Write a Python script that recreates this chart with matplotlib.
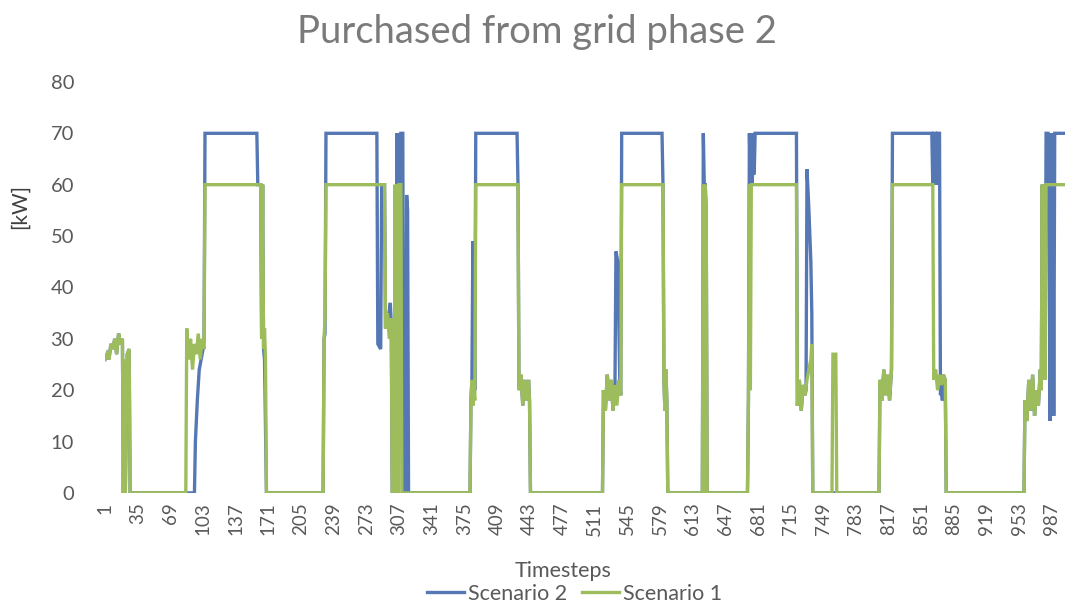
import numpy as np
import matplotlib
matplotlib.use("Agg")
import matplotlib.pyplot as plt

plt.rcParams['font.family'] = ['Lato', 'DejaVu Sans']

# Scenario 1 (green) - breakpoints: timestep, kW
s1_t = [1, 3, 5, 7, 9, 11, 13, 15, 17, 19, 20, 21, 22, 24, 26, 27,
        85, 86, 88, 90, 92, 94, 96, 98, 100, 102, 104, 105,
        163, 164, 165, 166, 167, 168, 169,
        228, 229, 230, 231,
        292, 293, 295, 297, 299, 300, 302, 303, 304, 305, 306, 307, 309, 310,
        381, 382, 383, 384, 385, 386, 387,
        431, 432, 434, 436, 438, 440, 442, 443, 444,
        519, 520, 522, 524, 526, 528, 530, 532, 534, 536, 538, 539,
        582, 583, 584, 585, 586, 587,
        623, 624, 625, 626, 627, 628,
        670, 671, 672, 673, 674,
        721, 722, 724, 726, 728, 730, 732, 734, 736, 737, 738,
        758, 759, 762, 763,
        807, 808, 810, 812, 814, 816, 818, 820, 821,
        863, 864, 866, 868, 870, 872, 874, 876, 877,
        958, 959, 961, 963, 965, 967, 969, 971, 973, 975, 976, 977, 978, 979, 980, 981, 1000]
s1_kw = [26, 27, 26, 29, 28, 30, 27, 31, 29, 30, 0, 26, 0, 27, 28, 0,
         0, 32, 26, 30, 24, 29, 27, 31, 26, 30, 28, 60,
         60, 30, 60, 28, 32, 26, 0,
         0, 30, 34, 60,
         60, 32, 35, 30, 34, 0, 0, 60, 0, 60, 0, 60, 60, 0,
         0, 18, 22, 17, 20, 18, 60,
         60, 20, 23, 17, 22, 18, 22, 18, 0,
         0, 20, 16, 23, 18, 22, 16, 21, 17, 22, 19, 60,
         60, 22, 16, 24, 18, 0,
         0, 60, 0, 60, 55, 0,
         0, 18, 60, 20, 60,
         60, 17, 22, 16, 21, 19, 22, 24, 26, 29, 0,
         0, 27, 27, 0,
         0, 22, 18, 24, 19, 23, 18, 24, 60,
         60, 22, 24, 20, 23, 21, 23, 22, 0,
         0, 18, 14, 22, 16, 23, 15, 20, 17, 24, 20, 60, 25, 60, 22, 60, 60]

# Scenario 2 (blue)
s2_t = [1, 3, 5, 7, 9, 11, 13, 15, 17, 19, 20, 21, 22, 24, 26, 27,
        94, 95, 97, 99, 101, 103, 104, 105,
        159, 160, 163, 164, 165, 166, 167, 169,
        228, 229, 230, 231,
        284, 285, 288, 289, 292, 293, 296, 298, 299, 300, 304, 305, 306, 307, 308, 309, 311, 312,
        314, 315, 316, 317,
        381, 382, 383, 384, 385, 386, 387,
        430, 431, 432, 434, 436, 438, 440, 442, 443, 444,
        519, 520, 522, 524, 526, 528, 530, 532, 533, 535, 537, 538, 539,
        581, 582, 583, 584, 585, 586, 587,
        623, 624, 625, 626, 627, 628,
        670, 671, 672, 673, 674, 675, 676, 677, 678,
        721, 722, 724, 726, 728, 730, 731, 732, 734, 736, 737, 738,
        807, 808, 810, 812, 814, 816, 818, 820, 821,
        862, 863, 864, 866, 867, 868, 870, 871, 872, 873, 874, 876, 877,
        958, 959, 961, 963, 965, 967, 969, 971, 973, 975, 976, 977, 978, 979, 980, 981,
        983, 984, 985, 986, 987, 988, 989, 990, 1000]
s2_kw = [26, 27, 26, 29, 28, 30, 27, 31, 29, 30, 0, 26, 0, 27, 28, 0,
         0, 10, 18, 24, 26, 28, 30, 70,
         70, 60, 60, 30, 60, 28, 26, 0,
         0, 30, 31, 70,
         70, 29, 28, 60, 60, 32, 34, 37, 33, 0, 0, 70, 0, 70, 10, 70, 70, 0,
         0, 58, 55, 0,
         0, 18, 22, 49, 35, 20, 70,
         70, 60, 20, 23, 17, 22, 18, 22, 18, 0,
         0, 20, 16, 23, 18, 22, 16, 21, 47, 45, 22, 19, 70,
         70, 60, 22, 16, 24, 18, 0,
         0, 70, 60, 60, 55, 0,
         0, 18, 70, 60, 70, 60, 70, 62, 70,
         70, 17, 22, 16, 21, 19, 20, 63, 55, 45, 35, 0,
         0, 22, 18, 24, 19, 23, 18, 24, 70,
         70, 60, 70, 70, 60, 70, 70, 19, 20, 18, 23, 22, 0,
         0, 18, 14, 22, 16, 23, 15, 20, 17, 24, 20, 60, 25, 60, 22, 70,
         70, 60, 14, 70, 62, 70, 15, 70, 70]

xticks = list(range(1, 1000, 34))
yticks = list(range(0, 81, 10))

blue = '#5578b4'
green = '#9dbd5c'
grey = '#595959'

fig = plt.figure(figsize=(10.68, 6.07), dpi=100)
ax = fig.add_axes([0.098, 0.188, 0.899, 0.677])

ax.plot(s2_t, s2_kw, color=blue, lw=2.4, label='Scenario 2', solid_joinstyle='miter')
ax.plot(s1_t, s1_kw, color=green, lw=2.4, label='Scenario 1', solid_joinstyle='miter')

ax.set_xlim(0.5, 1000.5)
ax.set_ylim(0, 80)
ax.set_xticks(xticks)
ax.set_xticklabels([str(v) for v in xticks], rotation=90, fontsize=13.5, color=grey)
ax.set_yticks(yticks)
ax.set_yticklabels([str(v) for v in yticks], fontsize=14.5, color=grey)
ax.tick_params(length=0, pad=7)
ax.tick_params(axis='y', pad=22)
for s in ax.spines.values():
    s.set_visible(False)

fig.text(0.503, 0.948, 'Purchased from grid phase 2', ha='center', va='center',
         fontsize=27.5, color='#7a7a7a')
fig.text(0.019, 0.66, '[kW]', rotation=90, ha='center', va='center',
         fontsize=15, color='#404040')
fig.text(0.527, 0.06, 'Timesteps', ha='center', va='center', fontsize=15.5, color=grey)

fig.legend(loc='center', bbox_to_anchor=(0.538, 0.022), ncol=2, frameon=False,
           fontsize=15.5, handlelength=1.7, columnspacing=0.7, handletextpad=0.2,
           labelcolor=grey)

fig.savefig('out.png', dpi=100)
